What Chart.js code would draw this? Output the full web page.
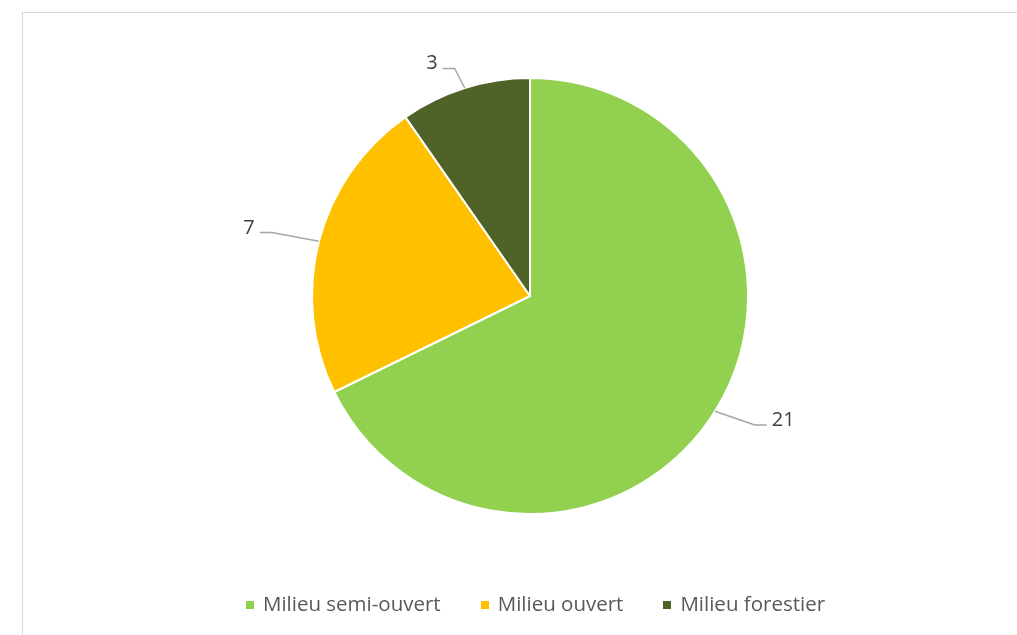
<!DOCTYPE html>
<html>
<head>
<meta charset="utf-8">
<script src="https://cdn.jsdelivr.net/npm/chart.js@4"></script>
<style>
  body { margin: 0; background: #fff; }
  #frame {
    position: absolute; left: 22px; top: 12px; width: 1100px; height: 700px;
    border-top: 1px solid #d9d9d9; border-left: 1px solid #d9d9d9;
  }
  #wrap { position: absolute; left: 0; top: 0; width: 1017px; height: 635px; }
  #legend {
    position: absolute; left: 0; top: 588px; width: 1017px; text-align: center;
    font-family: "Open Sans", sans-serif; font-size: 20.5px; color: #595959;
    padding-left: 54px; box-sizing: border-box; line-height: 30px;
  }
  #legend span.item { margin: 0 20px; white-space: nowrap; }
  #legend i { display: inline-block; width: 8px; height: 8px; margin-right: 9px; vertical-align: 2px; }
</style>
</head>
<body>
<div id="frame"></div>
<div id="wrap"><canvas id="pie" width="1017" height="635"></canvas></div>
<div id="legend"></div>
<script>
// Data
const categories = ["Milieu semi-ouvert", "Milieu ouvert", "Milieu forestier"];
const counts = [21, 7, 3];
const colors = ["#92D050", "#FFC000", "#4F6228"];

// leader lines: length outside the pie and turn (degrees) from the radial direction
const leaderLen = [42, 48, 22];
const leaderTurn = [-13, -4, -10];

const leaderLabels = {
  id: "leaderLabels",
  afterDatasetsDraw(chart) {
    const ctx = chart.ctx;
    const meta = chart.getDatasetMeta(0);
    ctx.save();
    ctx.font = "20px 'Open Sans', sans-serif";
    ctx.fillStyle = "#404040";
    ctx.strokeStyle = "#a6a6a6";
    ctx.lineWidth = 1.5;
    meta.data.forEach((arc, i) => {
      const p = arc.getProps(["x", "y", "startAngle", "endAngle", "outerRadius"], true);
      const mid = (p.startAngle + p.endAngle) / 2;
      const r = p.outerRadius;
      const x0 = p.x + Math.cos(mid) * r;
      const y0 = p.y + Math.sin(mid) * r;
      const a = mid + (leaderTurn[i] * Math.PI) / 180;
      const x1 = x0 + Math.cos(a) * leaderLen[i];
      const y1 = y0 + Math.sin(a) * leaderLen[i];
      const dir = Math.cos(mid) >= 0 ? 1 : -1;
      const x2 = x1 + dir * 12;
      ctx.beginPath();
      ctx.moveTo(x0, y0);
      ctx.lineTo(x1, y1);
      ctx.lineTo(x2, y1);
      ctx.stroke();
      ctx.textBaseline = "alphabetic";
      ctx.textAlign = dir > 0 ? "left" : "right";
      ctx.fillText(String(counts[i]), x2 + dir * 5, y1 + 1);
    });
    ctx.restore();
  },
};

new Chart(document.getElementById("pie"), {
  type: "pie",
  data: {
    labels: categories,
    datasets: [{
      data: counts,
      backgroundColor: colors,
      borderColor: "#ffffff",
      borderWidth: 2,
      hoverOffset: 0,
    }],
  },
  options: {
    responsive: false,
    animation: false,
    layout: { padding: { top: 77, bottom: 120, left: 311, right: 268 } },
    plugins: {
      legend: { display: false },
      tooltip: { enabled: false },
    },
  },
  plugins: [leaderLabels],
});

// Legend
const legend = document.getElementById("legend");
categories.forEach((c, i) => {
  const item = document.createElement("span");
  item.className = "item";
  item.innerHTML = `<i style="background:${colors[i]}"></i>${c}`;
  legend.appendChild(item);
});
</script>
</body>
</html>
